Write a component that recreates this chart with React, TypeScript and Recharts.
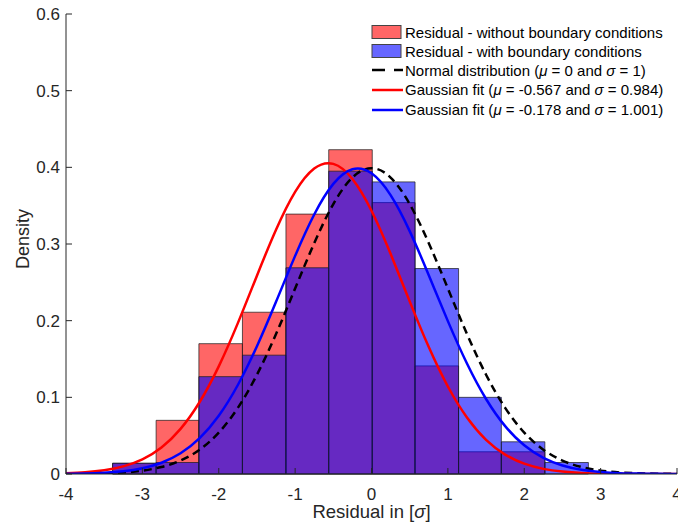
import { ComposedChart, Line, XAxis, YAxis, ReferenceArea } from 'recharts'

// histogram bins (edges)
const binEdges = [-3.39, -2.82, -2.26, -1.69, -1.12, -0.56, 0.01, 0.57, 1.14, 1.7, 2.27, 2.84]
const densityWithout = [0.014, 0.07, 0.17, 0.211, 0.339, 0.423, 0.354, 0.141, 0.029, 0.029, 0]
const densityWith = [0.014, 0.015, 0.127, 0.155, 0.269, 0.395, 0.381, 0.268, 0.1, 0.042, 0.015]

// curves, sampled every 0.25
const xs = [
    -4, -3.75, -3.5, -3.25, -3, -2.75, -2.5, -2.25, -2, -1.75, -1.5, -1.25, -1, -0.75, -0.5, -0.25,
    0, 0.25, 0.5, 0.75, 1, 1.25, 1.5, 1.75, 2, 2.25, 2.5, 2.75, 3, 3.25, 3.5, 3.75, 4,
]
const normalCurve = [
    0.0001, 0.0004, 0.0009, 0.002, 0.0044, 0.0091, 0.0175, 0.0317, 0.054, 0.0863, 0.1295, 0.1826, 0.242,
    0.3011, 0.3521, 0.3867, 0.3989, 0.3867, 0.3521, 0.3011, 0.242, 0.1826, 0.1295, 0.0863, 0.054, 0.0317,
    0.0175, 0.0091, 0.0044, 0.002, 0.0009, 0.0004, 0.0001,
]
const fitWithout = [
    0.0009, 0.0022, 0.0048, 0.0099, 0.0191, 0.0346, 0.0589, 0.0939, 0.1404, 0.1968, 0.2587, 0.3186, 0.368,
    0.3985, 0.4045, 0.3849, 0.3434, 0.2872, 0.2252, 0.1655, 0.1141, 0.0737, 0.0446, 0.0253, 0.0135, 0.0067,
    0.0032, 0.0014, 0.0006, 0.0002, 0.0001, 0, 0,
]
const fitWith = [
    0.0003, 0.0007, 0.0016, 0.0036, 0.0075, 0.0147, 0.027, 0.0468, 0.076, 0.1161, 0.1666, 0.2246, 0.2845,
    0.3385, 0.3784, 0.3975, 0.3922, 0.3637, 0.3168, 0.2593, 0.1994, 0.1441, 0.0978, 0.0624, 0.0374, 0.021,
    0.0111, 0.0055, 0.0026, 0.0011, 0.0005, 0.0002, 0.0001,
]

const xTicks = [-4, -3, -2, -1, 0, 1, 2, 3, 4]
const yTicks = [0, 0.1, 0.2, 0.3, 0.4, 0.5, 0.6]

const curveData = xs.map((x, i) => ({
    x,
    normal: normalCurve[i],
    without: fitWithout[i],
    with: fitWith[i],
}))

const font = '"Liberation Sans", Arial, sans-serif'
const axisColor = '#262626'
const edge = { stroke: '#1a1a1a', strokeOpacity: 0.7, strokeWidth: 1 }

const XTitle = (props: any) => {
    const { x, y, width } = props.viewBox
    return (
        <text x={x + width / 2} y={y + 44} textAnchor="middle" fontSize={18.5} fill={axisColor} fontFamily={font}>
            Residual in [<tspan fontStyle="italic">σ</tspan>]
        </text>
    )
}

const YTitle = (props: any) => {
    const { y, height } = props.viewBox
    const cy = y + height / 2 - 5
    return (
        <text x={29} y={cy} transform={`rotate(-90 29 ${cy})`} textAnchor="middle" fontSize={18} fill={axisColor} fontFamily={font}>
            Density
        </text>
    )
}

const legendRows = [
    { kind: 'patch', color: '#ff6666', label: <>Residual - without boundary conditions</> },
    { kind: 'patch', color: '#6666ff', label: <>Residual - with boundary conditions</> },
    { kind: 'dash', color: '#000000', label: <>Normal distribution (<i>μ</i> = 0 and <i>σ</i> = 1)</> },
    { kind: 'line', color: '#ff0000', label: <>Gaussian fit (<i>μ</i> = -0.567 and <i>σ</i> = 0.984)</> },
    { kind: 'line', color: '#0000ff', label: <>Gaussian fit (<i>μ</i> = -0.178 and <i>σ</i> = 1.001)</> },
]

function Legend() {
    return (
        <div style={{ position: 'absolute', left: 371, top: 23, fontFamily: font, fontSize: 15, color: '#000' }}>
            {legendRows.map((r, i) => (
                <div key={i} style={{ display: 'flex', alignItems: 'center', height: i < 2 ? 18.7 : 19.7, whiteSpace: 'nowrap' }}>
                    <svg width={34} height={16} style={{ flex: 'none' }}>
                        {r.kind === 'patch' && (
                            <rect x={1} y={1.5} width={29} height={13} fill={r.color} stroke="#444" strokeWidth={1} />
                        )}
                        {r.kind === 'dash' && (
                            <line x1={1} y1={8} x2={32} y2={8} stroke={r.color} strokeWidth={2.5} strokeDasharray="13 9" />
                        )}
                        {r.kind === 'line' && <line x1={1} y1={8} x2={32} y2={8} stroke={r.color} strokeWidth={2.5} />}
                    </svg>
                    <span>{r.label}</span>
                </div>
            ))}
        </div>
    )
}

export default function App() {
    const bins = densityWithout.map((_, i) => i)
    return (
        <div style={{ position: 'relative', width: 678, height: 532, background: '#fff' }}>
            <style>{'body{margin:0}'}</style>
            <ComposedChart width={678} height={532} data={curveData} margin={{ top: 14, right: 1, bottom: 0, left: 0 }}>
                <XAxis
                    dataKey="x"
                    type="number"
                    domain={[-4, 4]}
                    ticks={xTicks}
                    interval={0}
                    allowDataOverflow
                    height={58}
                    tickSize={-6}
                    tickMargin={20}
                    stroke={axisColor}
                    tick={{ fill: axisColor, fontSize: 17, fontFamily: font }}
                    label={{ content: XTitle }}
                />
                <XAxis
                    xAxisId="top"
                    orientation="top"
                    type="number"
                    domain={[-4, 4]}
                    ticks={xTicks}
                    interval={0}
                    allowDataOverflow
                    height={0}
                    tickSize={-6}
                    tick={false}
                    stroke={axisColor}
                />
                <YAxis
                    type="number"
                    domain={[0, 0.6]}
                    ticks={yTicks}
                    interval={0}
                    allowDataOverflow
                    width={66}
                    tickSize={-6}
                    tickMargin={12}
                    stroke={axisColor}
                    tick={{ fill: axisColor, fontSize: 17, fontFamily: font }}
                    label={{ content: YTitle }}
                />
                <YAxis
                    yAxisId="right"
                    orientation="right"
                    type="number"
                    domain={[0, 0.6]}
                    ticks={yTicks}
                    interval={0}
                    allowDataOverflow
                    width={0}
                    tickSize={-6}
                    tick={false}
                    stroke={axisColor}
                />
                {bins.map((i) =>
                    densityWithout[i] > 0 ? (
                        <ReferenceArea
                            key={'r' + i}
                            x1={binEdges[i]}
                            x2={binEdges[i + 1]}
                            y1={0}
                            y2={densityWithout[i]}
                            fill="#ff0000"
                            fillOpacity={0.6}
                            {...edge}
                        />
                    ) : null
                )}
                {bins.map((i) =>
                    densityWith[i] > 0 ? (
                        <ReferenceArea
                            key={'b' + i}
                            x1={binEdges[i]}
                            x2={binEdges[i + 1]}
                            y1={0}
                            y2={densityWith[i]}
                            fill="#0000ff"
                            fillOpacity={0.6}
                            {...edge}
                        />
                    ) : null
                )}
                <Line type="natural" dataKey="normal" stroke="#000" strokeWidth={2.5} strokeDasharray="8 5" dot={false} activeDot={false} isAnimationActive={false} />
                <Line type="natural" dataKey="without" stroke="#ff0000" strokeWidth={2.5} dot={false} activeDot={false} isAnimationActive={false} />
                <Line type="natural" dataKey="with" stroke="#0000ff" strokeWidth={2.5} dot={false} activeDot={false} isAnimationActive={false} />
            </ComposedChart>
            <Legend />
        </div>
    )
}
